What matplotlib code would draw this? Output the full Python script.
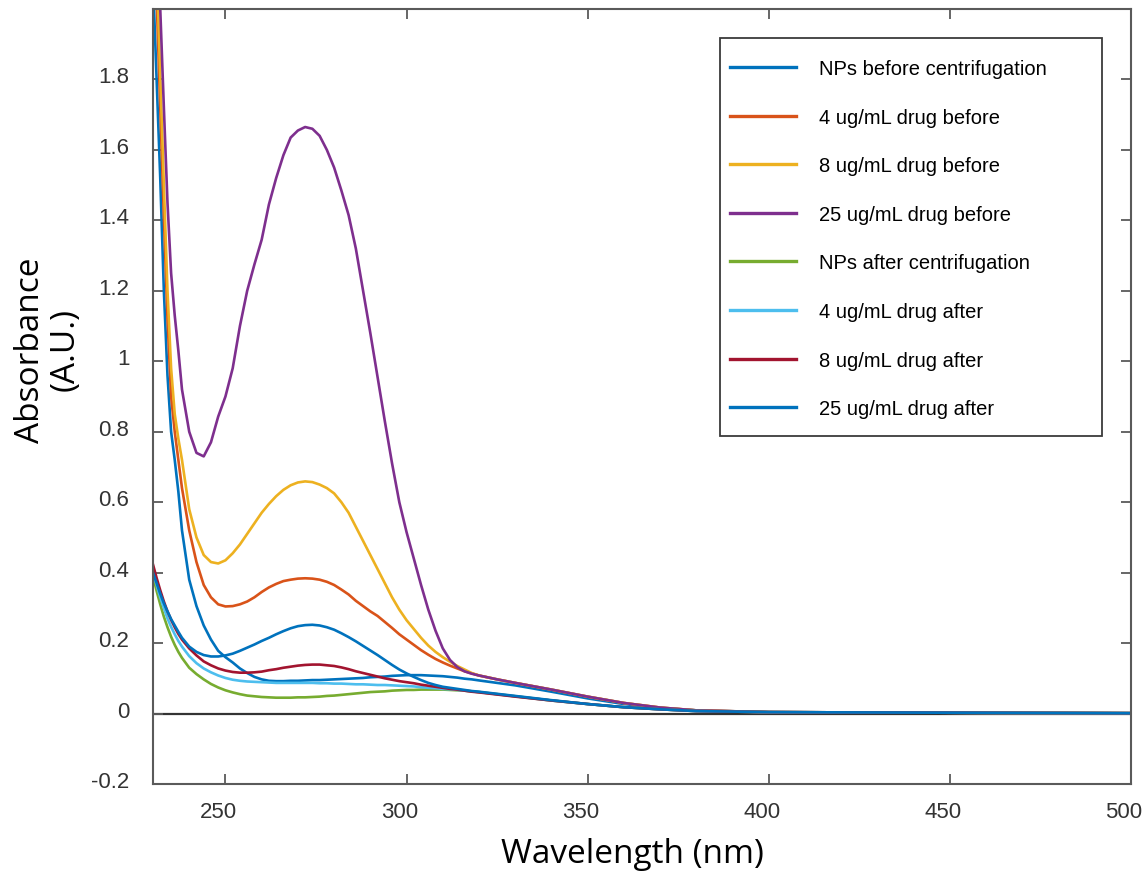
import numpy as np
import matplotlib
matplotlib.use('Agg')
import matplotlib.pyplot as plt
from matplotlib.patches import Rectangle
from matplotlib.transforms import ScaledTranslation

# wavelength grid (nm) shared by all spectra
wavelength = ([230, 231, 232, 233, 234, 235, 236, 237, 238,
               240, 242, 244, 246, 248]
              + list(range(250, 321, 2))
              + [325, 330, 340, 350, 360, 370, 380,
                 400, 430, 460, 500])

nps_before = ([2.08, 1.80, 1.52, 1.20, 0.96, 0.80, 0.72, 0.63, 0.52,
               0.38, 0.305, 0.25, 0.21, 0.178]
              + [0.16, 0.145, 0.128, 0.115, 0.104, 0.097, 0.093, 0.092, 0.092, 0.093, 0.093, 0.094,
                 0.095, 0.095, 0.096, 0.097, 0.098, 0.099, 0.100, 0.101, 0.103, 0.104, 0.105, 0.107,
                 0.108, 0.109, 0.109, 0.109, 0.108, 0.107, 0.106, 0.104, 0.102, 0.099, 0.097, 0.094]
              + [0.087, 0.080, 0.062, 0.043, 0.027, 0.016, 0.009,
                 0.004, 0.003, 0.002, 0.001])

drug4_before = ([2.34, 2.03, 1.72, 1.41, 1.12, 0.90, 0.80, 0.72, 0.64,
                 0.52, 0.43, 0.365, 0.33, 0.31]
                + [0.304, 0.305, 0.31, 0.318, 0.33, 0.345, 0.358, 0.368, 0.376, 0.38, 0.383, 0.384,
                   0.383, 0.38, 0.374, 0.365, 0.352, 0.338, 0.32, 0.305, 0.29, 0.277, 0.26, 0.243,
                   0.225, 0.21, 0.195, 0.18, 0.167, 0.155, 0.145, 0.136, 0.128, 0.12, 0.114, 0.108]
                + [0.097, 0.087, 0.068, 0.048, 0.030, 0.017, 0.009,
                   0.004, 0.003, 0.002, 0.001])

drug8_before = ([2.43, 2.12, 1.81, 1.50, 1.20, 0.98, 0.85, 0.78, 0.72,
                 0.58, 0.50, 0.45, 0.43, 0.426]
                + [0.435, 0.455, 0.48, 0.51, 0.54, 0.57, 0.595, 0.617, 0.635, 0.648, 0.656, 0.659,
                   0.657, 0.65, 0.64, 0.625, 0.60, 0.57, 0.53, 0.49, 0.45, 0.41, 0.37, 0.33,
                   0.295, 0.265, 0.24, 0.215, 0.193, 0.175, 0.16, 0.147, 0.135, 0.125, 0.115, 0.108]
                + [0.097, 0.087, 0.068, 0.048, 0.030, 0.017, 0.009,
                   0.004, 0.003, 0.002, 0.001])

drug25_before = ([2.50, 2.25, 2.00, 1.72, 1.45, 1.25, 1.13, 1.03, 0.92,
                  0.80, 0.74, 0.73, 0.77, 0.843]
                 + [0.90, 0.98, 1.10, 1.20, 1.275, 1.345, 1.445, 1.52, 1.585, 1.635, 1.655, 1.665,
                    1.66, 1.64, 1.60, 1.55, 1.485, 1.415, 1.32, 1.20, 1.08, 0.955, 0.83, 0.71,
                    0.60, 0.515, 0.44, 0.365, 0.295, 0.235, 0.185, 0.152, 0.132, 0.12, 0.113, 0.108]
                 + [0.097, 0.087, 0.068, 0.048, 0.030, 0.017, 0.009,
                    0.004, 0.003, 0.002, 0.001])

nps_after = ([0.39, 0.348, 0.31, 0.275, 0.245, 0.218, 0.195, 0.175, 0.158,
              0.13, 0.112, 0.097, 0.084, 0.074]
             + [0.066, 0.06, 0.055, 0.051, 0.049, 0.047, 0.046, 0.045, 0.045, 0.045, 0.046, 0.046,
                0.047, 0.048, 0.05, 0.051, 0.053, 0.055, 0.057, 0.059, 0.061, 0.062, 0.063, 0.065,
                0.066, 0.067, 0.067, 0.068, 0.068, 0.068, 0.068, 0.067, 0.066, 0.065, 0.063, 0.061]
             + [0.055, 0.049, 0.037, 0.027, 0.018, 0.012, 0.007,
                0.004, 0.003, 0.002, 0.001])

drug4_after = ([0.40, 0.365, 0.33, 0.30, 0.27, 0.246, 0.225, 0.206, 0.19,
                0.163, 0.143, 0.128, 0.117, 0.108]
               + [0.101, 0.096, 0.093, 0.091, 0.09, 0.089, 0.088, 0.087, 0.087, 0.087, 0.087, 0.087,
                  0.087, 0.086, 0.086, 0.085, 0.085, 0.084, 0.083, 0.083, 0.082, 0.081, 0.081, 0.08,
                  0.079, 0.078, 0.077, 0.075, 0.073, 0.072, 0.07, 0.069, 0.067, 0.065, 0.063, 0.061]
               + [0.055, 0.049, 0.037, 0.027, 0.018, 0.012, 0.007,
                  0.004, 0.003, 0.002, 0.001])

drug8_after = ([0.423, 0.385, 0.35, 0.318, 0.29, 0.266, 0.245, 0.226, 0.21,
                0.185, 0.165, 0.148, 0.137, 0.128]
               + [0.122, 0.118, 0.116, 0.116, 0.117, 0.119, 0.123, 0.126, 0.13, 0.133, 0.136, 0.138,
                  0.139, 0.139, 0.137, 0.135, 0.131, 0.126, 0.12, 0.115, 0.11, 0.105, 0.1, 0.096,
                  0.092, 0.089, 0.086, 0.082, 0.079, 0.076, 0.073, 0.07, 0.068, 0.065, 0.062, 0.06]
               + [0.054, 0.048, 0.037, 0.027, 0.018, 0.012, 0.007,
                  0.004, 0.003, 0.002, 0.001])

drug25_after = ([0.40, 0.37, 0.34, 0.313, 0.29, 0.268, 0.25, 0.232, 0.215,
                 0.19, 0.175, 0.166, 0.162, 0.162]
                + [0.165, 0.17, 0.178, 0.187, 0.196, 0.206, 0.215, 0.225, 0.234, 0.242, 0.248, 0.251,
                   0.252, 0.25, 0.245, 0.238, 0.228, 0.217, 0.205, 0.192, 0.179, 0.166, 0.152, 0.138,
                   0.125, 0.114, 0.104, 0.095, 0.087, 0.081, 0.076, 0.073, 0.07, 0.067, 0.064, 0.062]
                + [0.056, 0.05, 0.038, 0.027, 0.018, 0.012, 0.007,
                   0.004, 0.003, 0.002, 0.001])

labels = ['NPs before centrifugation', '4 ug/mL drug before', '8 ug/mL drug before', '25 ug/mL drug before',
          'NPs after centrifugation', '4 ug/mL drug after', '8 ug/mL drug after', '25 ug/mL drug after']
series = [nps_before, drug4_before, drug8_before, drug25_before,
          nps_after, drug4_after, drug8_after, drug25_after]
colors = ['#0072BD', '#D95319', '#EDB120', '#7E2F8E', '#77AC30', '#4DBEEE', '#A2142F', '#0072BD']

xticks = [250, 300, 350, 400, 450, 500]
yticks = [-0.2, 0, 0.2, 0.4, 0.6, 0.8, 1, 1.2, 1.4, 1.6, 1.8]
ytick_labels = ['-0.2', '0', '0.2', '0.4', '0.6', '0.8', '1', '1.2', '1.4', '1.6', '1.8']

plt.rcParams['font.family'] = ['Liberation Sans', 'DejaVu Sans']

W, H = 1148, 878
fig = plt.figure(figsize=(W / 100, H / 100), dpi=100)
ax = fig.add_axes([153 / W, 93 / H, 978 / W, 775 / H])

ax.axhline(0, color='#333333', lw=1.6, zorder=1)
lines = []
for y, c, lab in zip(series, colors, labels):
    ln, = ax.plot(wavelength, y, color=c, lw=1.9, label=lab, zorder=2,
                  solid_joinstyle='round')
    lines.append(ln)

ax.set_xlim(230, 500)
ax.set_ylim(-0.2, 2.0)
ax.set_xticks(xticks)
ax.set_xticklabels([str(t) for t in xticks])
ax.set_yticks(yticks)
ax.set_yticklabels(ytick_labels)

for s in ax.spines.values():
    s.set_color('#5a5a5a')
    s.set_linewidth(1.5)
ax.tick_params(direction='in', length=7, width=1.3, color='#5a5a5a',
               top=True, right=True, labelsize=16, labelcolor='#333333')
ax.tick_params(axis='y', pad=17)
ax.tick_params(axis='x', pad=12)

# nudge tick labels a little, as in the exported figure
for t in ax.get_xticklabels():
    t.set_transform(t.get_transform() + ScaledTranslation(-0.07, 0, fig.dpi_scale_trans))
for t in ax.get_yticklabels():
    t.set_transform(t.get_transform() + ScaledTranslation(0, 0.05, fig.dpi_scale_trans))

# legend frame drawn separately so the padding can be set freely
x0, x1 = (720 - 153) / 978, (1102 - 153) / 978
y0, y1 = (785 - 437) / 775, (785 - 39) / 775
ax.add_patch(Rectangle((x0, y0), x1 - x0, y1 - y0, transform=ax.transAxes,
                       facecolor='white', edgecolor='#3a3a3a', lw=1.3, zorder=5))
leg = ax.legend(handles=lines, loc='upper left', bbox_to_anchor=((730 - 153) / 978, (785 - 60) / 775),
                frameon=False, borderpad=0, borderaxespad=0, fontsize=14.5,
                handlelength=3.3, handletextpad=1.1, labelspacing=1.47)
leg.set_zorder(6)
for h in leg.legend_handles:
    h.set_linewidth(2.4)

fig.text(632 / W, 1 - 855 / H, 'Wavelength (nm)', fontsize=24, family=['Open Sans', 'DejaVu Sans'],
         ha='center', va='center', color='black')
fig.text(48 / W, 1 - 350 / H, 'Absorbance\n(A.U.)', fontsize=24, family=['Open Sans', 'DejaVu Sans'],
         ha='center', va='center', rotation=90, multialignment='center', linespacing=1.05, color='black')

fig.savefig('out.png', dpi=100, facecolor='white')
